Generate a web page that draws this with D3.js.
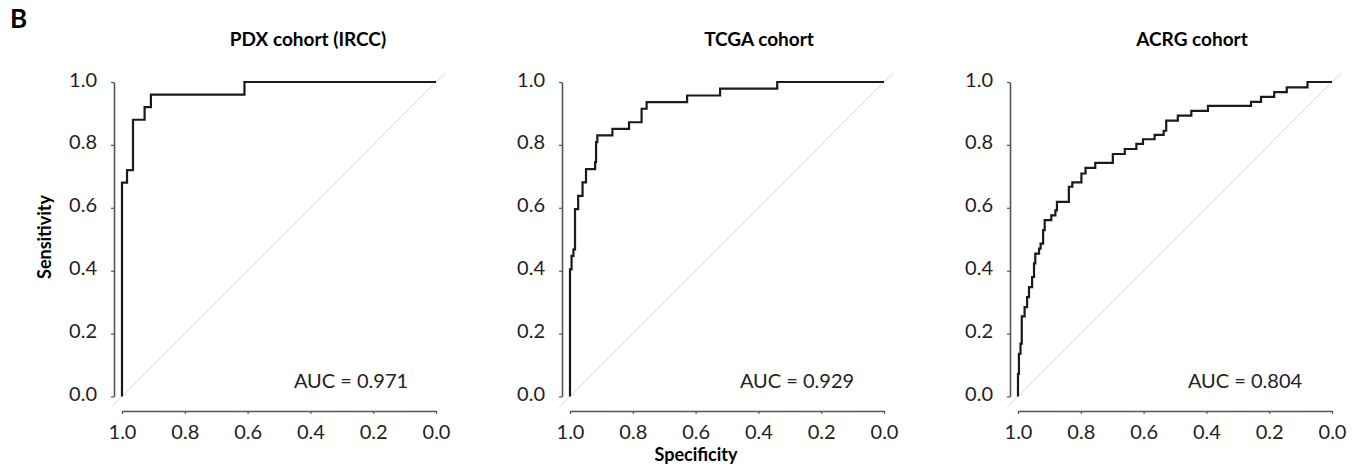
<!DOCTYPE html>
<html>
<head>
<meta charset="utf-8">
<script src="https://cdn.jsdelivr.net/npm/d3@7"></script>
<style>
body { margin:0; background:#fff; }
</style>
</head>
<body>
<div id="chart-area"></div>
<script>
var titles = ["PDX cohort (IRCC)", "TCGA cohort", "ACRG cohort"];
var aucLabels = ["AUC = 0.971", "AUC = 0.929", "AUC = 0.804"];
var tickValues = [0, 0.2, 0.4, 0.6, 0.8, 1.0];

// step corners of each ROC curve (specificity, sensitivity)
var pdxSpec = [1, 1, 0.984, 0.965, 0.928, 0.908, 0.61, 0];
var pdxSens = [0, 0.68, 0.72, 0.88, 0.92, 0.96, 1.0, 1.0];

var tcgaSpec = [1, 1, 0.995, 0.989, 0.984, 0.974, 0.96, 0.949, 0.92, 0.917, 0.913, 0.865, 0.812, 0.772, 0.756, 0.627, 0.522, 0.34, 0];
var tcgaSens = [0, 0.404, 0.447, 0.468, 0.596, 0.638, 0.681, 0.723, 0.745, 0.809, 0.83, 0.851, 0.872, 0.915, 0.936, 0.957, 0.979, 1.0, 1.0];

var acrgSpec = [1, 1, 0.997, 0.992, 0.988, 0.979, 0.971, 0.965, 0.955, 0.949, 0.945, 0.933, 0.928, 0.92, 0.915, 0.894, 0.881, 0.876, 0.838, 0.827,
                0.798, 0.785, 0.754, 0.698, 0.66, 0.623, 0.602, 0.565, 0.536, 0.528, 0.491, 0.448, 0.395, 0.258, 0.226, 0.184, 0.144, 0.078, 0];
var acrgSens = [0, 0.072, 0.136, 0.168, 0.255, 0.284, 0.316, 0.348, 0.38, 0.423, 0.454, 0.47, 0.486, 0.529, 0.561, 0.576, 0.592, 0.619, 0.667, 0.681,
                0.709, 0.727, 0.743, 0.771, 0.787, 0.803, 0.818, 0.832, 0.845, 0.877, 0.893, 0.908, 0.924, 0.937, 0.953, 0.968, 0.983, 1.0, 1.0];

var curves = [[pdxSpec, pdxSens], [tcgaSpec, tcgaSens], [acrgSpec, acrgSens]];

var W = 1353, H = 472;
var panelLeft = [122, 570, 1018];
var plotW = 314;
var plotTop = 82, plotBottom = 396.5;
var xAxisY = 411;
var font = "Lato, 'Open Sans', sans-serif";

var svg = d3.select('#chart-area').append('svg')
    .attr('width', W)
    .attr('height', H)
    .style('font-family', font);

svg.append("text")
    .attr("x", 10)
    .attr("y", 28)
    .attr("font-size", "26px")
    .attr("font-weight", "bold")
    .text("B");

var titleX = [308, 759, 1192];
var aucX = [351, 797, 1245];

curves.forEach(function(c, i) {
    var x = d3.scaleLinear().domain([1, 0]).range([panelLeft[i], panelLeft[i] + plotW]);
    var y = d3.scaleLinear().domain([0, 1]).range([plotBottom, plotTop]);

    // reference diagonal
    svg.append("line")
        .attr("x1", x(1.035)).attr("y1", y(-0.035))
        .attr("x2", x(-0.03)).attr("y2", y(1.03))
        .attr("stroke", "#dcdcdc")
        .attr("stroke-width", 1);

    var yAxis = d3.axisLeft(y).tickValues(tickValues).tickSize(3).tickSizeOuter(0)
        .tickFormat(d3.format(".1f"));
    var gy = svg.append("g")
        .attr("transform", "translate(" + (panelLeft[i] - 8) + ",0)")
        .call(yAxis);
    gy.select(".domain").attr("stroke", "#555").attr("stroke-width", 1.6);
    gy.selectAll(".tick line").attr("stroke", "#555").attr("stroke-width", 1.2);
    gy.selectAll("text")
        .attr("font-size", "20px")
        .attr("font-family", font)
        .attr("fill", "#222")
        .attr("x", -17)
        .attr("dy", "0.2em");

    var xAxis = d3.axisBottom(x).tickValues(tickValues).tickSize(3).tickSizeOuter(0)
        .tickFormat(d3.format(".1f"));
    var gx = svg.append("g")
        .attr("transform", "translate(0," + xAxisY + ")")
        .call(xAxis);
    gx.select(".domain").attr("stroke", "#555").attr("stroke-width", 1.6);
    gx.selectAll(".tick line").attr("stroke", "#555").attr("stroke-width", 1.2);
    gx.selectAll("text")
        .attr("font-size", "20px")
        .attr("font-family", font)
        .attr("fill", "#222")
        .attr("y", 14);

    var pts = c[0].map(function(s, j) { return [s, c[1][j]]; });
    var line = d3.line()
        .x(function(d) { return x(d[0]); })
        .y(function(d) { return y(d[1]); })
        .curve(d3.curveStepAfter);
    svg.append("path")
        .datum(pts)
        .attr("d", line)
        .attr("fill", "none")
        .attr("stroke", "#1a1a1a")
        .attr("stroke-width", 2.2);

    svg.append("text")
        .attr("x", titleX[i])
        .attr("y", 46)
        .attr("text-anchor", "middle")
        .attr("font-size", "19px")
        .attr("font-weight", "bold")
        .text(titles[i]);

    svg.append("text")
        .attr("x", aucX[i])
        .attr("y", 388)
        .attr("text-anchor", "middle")
        .attr("font-size", "20px")
        .attr("fill", "#222")
        .text(aucLabels[i]);
});

svg.append("text")
    .attr("transform", "translate(51,237) rotate(-90)")
    .attr("text-anchor", "middle")
    .attr("font-size", "18px")
    .attr("font-weight", "bold")
    .text("Sensitivity");

svg.append("text")
    .attr("x", 696)
    .attr("y", 461)
    .attr("text-anchor", "middle")
    .attr("font-size", "18px")
    .attr("font-weight", "bold")
    .text("Specificity");
</script>
</body>
</html>
